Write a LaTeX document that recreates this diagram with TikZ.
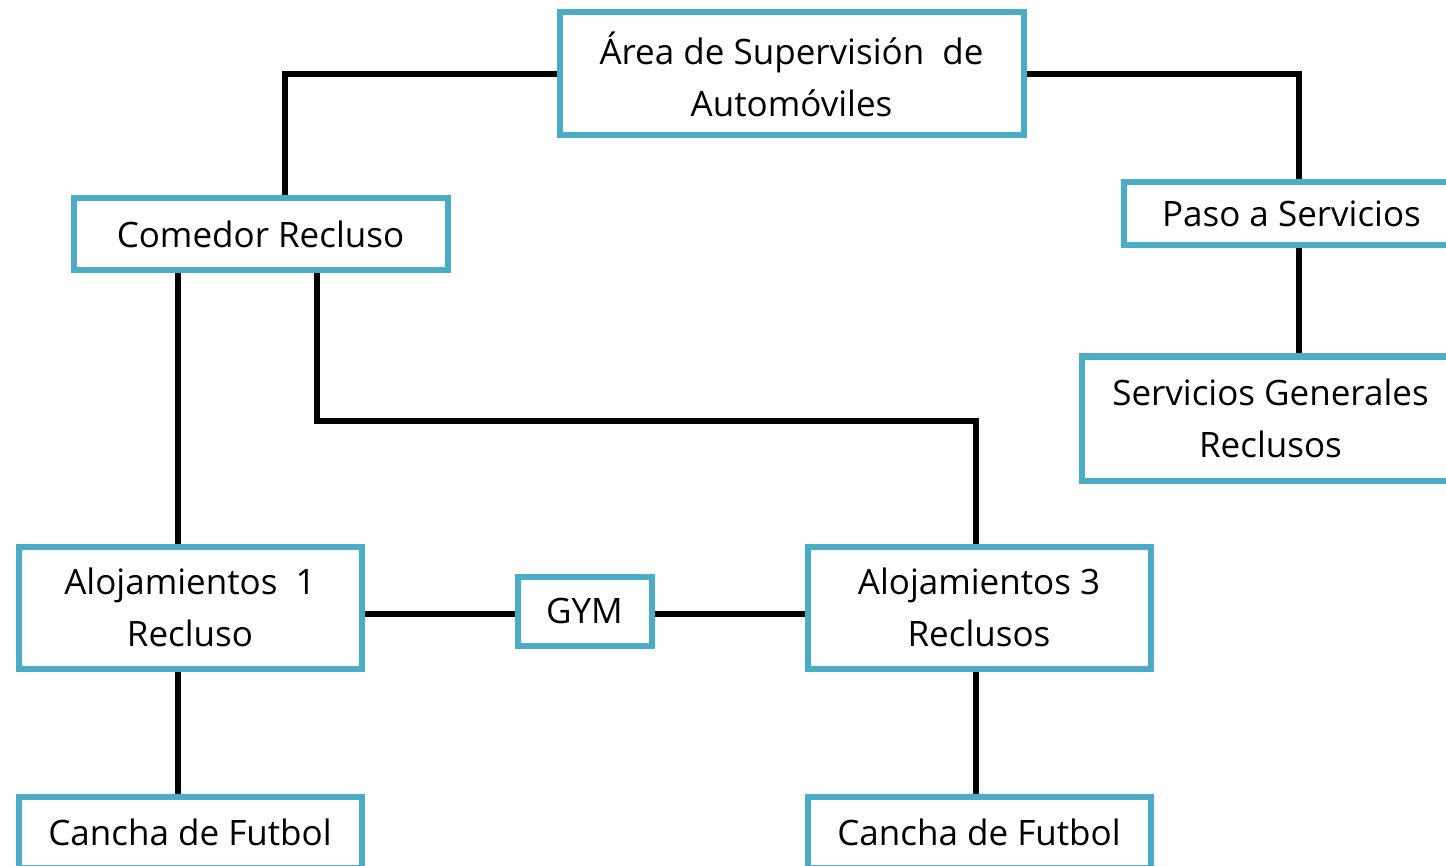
\documentclass[tikz,border=0pt]{standalone}
\usepackage{fontspec}
\setmainfont{Open Sans}
\definecolor{boxblue}{HTML}{4BACC6}
\begin{document}
\begin{tikzpicture}[x=0.5pt,y=-0.5pt,
  box/.style={draw=boxblue,line width=3pt,fill=white,inner sep=0pt,align=center,
    font=\fontsize{17.5}{26}\selectfont},
  link/.style={draw=black,line width=2.8pt}]
\useasboundingbox (0,0) rectangle (1446,866);
\clip (0,0) rectangle (1446,866);
\coordinate (cA) at (285,0);
\coordinate (cB) at (1299,0);
\coordinate (cC) at (178,0);
\coordinate (cD) at (317,0);
\coordinate (cE) at (976,0);
\coordinate (yM) at (0,421);
\coordinate (yG) at (0,614);
\node[box,minimum width=232pt,minimum height=61.5pt] (area) at (791.5,74) {Área de Supervisión\ \ de\\Automóviles};
\node[box,minimum width=187pt,minimum height=36pt] (comedor) at (260.5,234.5) {Comedor Recluso};
\node[box,minimum width=168pt,minimum height=31.5pt] (paso) at (1291.5,214) {Paso a Servicios};
\node[box,minimum width=189pt,minimum height=62pt] (serv) at (1270.5,418.5) {Servicios Generales\\Reclusos};
\node[box,minimum width=171.5pt,minimum height=61pt] (aloj1) at (190,607.5) {Alojamientos\ \ 1\\Recluso};
\node[box,minimum width=67pt,minimum height=34.5pt] (gym) at (584.5,611) {GYM};
\node[box,minimum width=171.5pt,minimum height=61pt] (aloj3) at (979,607.5) {Alojamientos 3\\Reclusos};
\node[box,minimum width=171.5pt,minimum height=35.5pt] (cancha1) at (190,832) {Cancha de Futbol};
\node[box,minimum width=171.5pt,minimum height=35.5pt] (cancha2) at (979,832) {Cancha de Futbol};
\draw[link] (area.west) -| (cA |- comedor.north);
\draw[link] (area.east) -| (cB |- paso.north);
\draw[link] (cB |- paso.south) -- (cB |- serv.north);
\draw[link] (cC |- comedor.south) -- (cC |- aloj1.north);
\draw[link] (cD |- comedor.south) -- (cD |- yM) -| (cE |- aloj3.north);
\draw[link] (aloj1.east |- yG) -- (gym.west |- yG);
\draw[link] (gym.east |- yG) -- (aloj3.west |- yG);
\draw[link] (cC |- aloj1.south) -- (cC |- cancha1.north);
\draw[link] (cE |- aloj3.south) -- (cE |- cancha2.north);
\end{tikzpicture}
\end{document}
